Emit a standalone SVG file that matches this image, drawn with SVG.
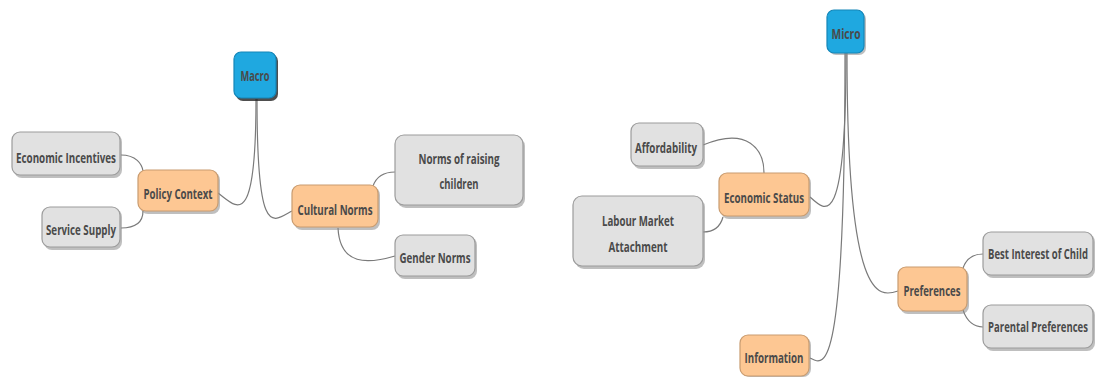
<svg xmlns="http://www.w3.org/2000/svg" width="1097" height="377" viewBox="0 0 1097 377">
<style>
.sh{fill:#8a8a8a;opacity:0.55}
.shd{fill:#222;opacity:0.8}
.g{fill:#e1e1e1;stroke:#9c9c9c;stroke-width:1.2}
.o{fill:#fdc793;stroke:#c99c70;stroke-width:1.2}
.b{fill:#1fa8e0;stroke:#1486b8;stroke-width:1.2}
text{font-family:"Open Sans","Liberation Sans",sans-serif;font-weight:700;font-size:15px;fill:#4a4a4a;text-anchor:middle;dominant-baseline:central}
.c path{fill:none;stroke:#7a7a7a;stroke-width:1.2}
</style>
<rect width="1097" height="377" fill="#fff"/>
<g class="c" id="connectors">
<path d="M256,99 C256,235 236,206 218,193"/>
<path d="M257,99 C257,240 272,222 292,211"/>
<path d="M121,155 C136,155 142,164 143,171"/>
<path d="M143,211 C143,224 134,228 121,228"/>
<path d="M373,186 C377,175 385,172 395,172"/>
<path d="M338,228 C340,266 368,264 395,256"/>
<path d="M846,53 C846,232 826,212 810,197"/>
<path d="M847,53 C847,302 878,298 898,291"/>
<path d="M845,53 C845,385 824,365 810,358"/>
<path d="M703,145 C748,126 764,150 764,173"/>
<path d="M723,217 C720,228 712,232 703,232"/>
<path d="M963,268 C967,257 975,254 983,254"/>
<path d="M963,310 C967,322 975,327 983,327"/>
</g>
<g id="macro"><rect class="shd" x="236" y="54" width="42" height="47" rx="7"/><rect class="b" x="234" y="52" width="42" height="46" rx="7"/><text x="255" y="75" textLength="29" lengthAdjust="spacingAndGlyphs">Macro</text></g>
<g id="economic-incentives"><rect class="sh" x="14" y="134" width="108" height="44" rx="8"/><rect class="g" x="12" y="132" width="108" height="43" rx="8"/><text x="66" y="157" textLength="100" lengthAdjust="spacingAndGlyphs">Economic Incentives</text></g>
<g id="policy-context"><rect class="sh" x="140" y="172" width="80" height="42" rx="8"/><rect class="o" x="138" y="170" width="80" height="41" rx="8"/><text x="178" y="193" textLength="69" lengthAdjust="spacingAndGlyphs">Policy Context</text></g>
<g id="service-supply"><rect class="sh" x="44" y="209" width="78" height="41" rx="8"/><rect class="g" x="42" y="207" width="78" height="40" rx="8"/><text x="81" y="229" textLength="70" lengthAdjust="spacingAndGlyphs">Service Supply</text></g>
<g id="cultural-norms"><rect class="sh" x="294" y="187" width="86" height="43" rx="8"/><rect class="o" x="292" y="185" width="86" height="42" rx="8"/><text x="335" y="209" textLength="75" lengthAdjust="spacingAndGlyphs">Cultural Norms</text></g>
<g id="norms-raising"><rect class="sh" x="397" y="137" width="128" height="71" rx="9"/><rect class="g" x="395" y="135" width="128" height="70" rx="9"/><text x="459" y="158" textLength="81" lengthAdjust="spacingAndGlyphs">Norms of raising</text><text x="459" y="183" textLength="39" lengthAdjust="spacingAndGlyphs">children</text></g>
<g id="gender-norms"><rect class="sh" x="397" y="237" width="80" height="42" rx="8"/><rect class="g" x="395" y="235" width="80" height="41" rx="8"/><text x="435" y="257" textLength="71" lengthAdjust="spacingAndGlyphs">Gender Norms</text></g>
<g id="micro"><rect class="sh" x="829" y="12" width="37" height="43" rx="7"/><rect class="b" x="827" y="10" width="37" height="43" rx="7"/><text x="846" y="33" textLength="29" lengthAdjust="spacingAndGlyphs">Micro</text></g>
<g id="affordability"><rect class="sh" x="633" y="125" width="72" height="44" rx="8"/><rect class="g" x="631" y="123" width="72" height="43" rx="8"/><text x="666" y="147" textLength="62" lengthAdjust="spacingAndGlyphs">Affordability</text></g>
<g id="economic-status"><rect class="sh" x="721" y="175" width="90" height="44" rx="8"/><rect class="o" x="719" y="173" width="90" height="43" rx="8"/><text x="764" y="197" textLength="80" lengthAdjust="spacingAndGlyphs">Economic Status</text></g>
<g id="labour-market"><rect class="sh" x="575" y="198" width="130" height="71" rx="9"/><rect class="g" x="573" y="196" width="130" height="70" rx="9"/><text x="638" y="220" textLength="72" lengthAdjust="spacingAndGlyphs">Labour Market</text><text x="638" y="246" textLength="59" lengthAdjust="spacingAndGlyphs">Attachment</text></g>
<g id="preferences"><rect class="sh" x="900" y="269" width="69" height="45" rx="8"/><rect class="o" x="898" y="267" width="69" height="44" rx="8"/><text x="932" y="290" textLength="57" lengthAdjust="spacingAndGlyphs">Preferences</text></g>
<g id="information"><rect class="sh" x="742" y="337" width="69" height="40" rx="8"/><rect class="o" x="740" y="335" width="69" height="41" rx="8"/><text x="774" y="357" textLength="59" lengthAdjust="spacingAndGlyphs">Information</text></g>
<g id="best-interest"><rect class="sh" x="985" y="234" width="110" height="44" rx="8"/><rect class="g" x="983" y="232" width="110" height="43" rx="8"/><text transform="translate(1038,254) scale(0.62,1)" x="0" y="0" textLength="161" lengthAdjust="spacingAndGlyphs">Best Interest of Child</text></g>
<g id="parental-preferences"><rect class="sh" x="985" y="307" width="110" height="44" rx="8"/><rect class="g" x="983" y="305" width="110" height="43" rx="8"/><text transform="translate(1038,327) scale(0.62,1)" x="0" y="0" textLength="161" lengthAdjust="spacingAndGlyphs">Parental Preferences</text></g>
</svg>
